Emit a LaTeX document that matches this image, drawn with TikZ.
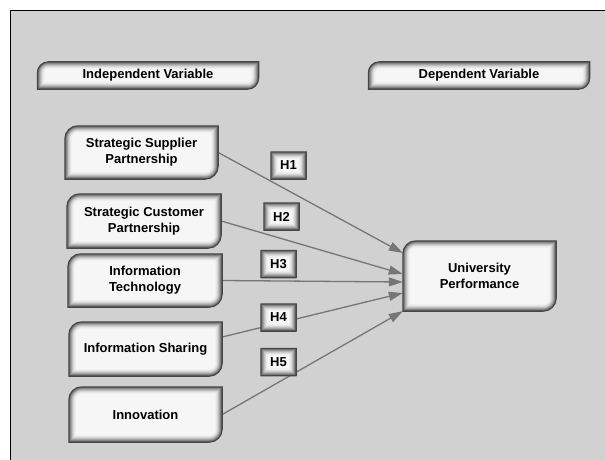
\documentclass[tikz,border=0pt]{standalone}
\usepackage{fontspec}
\setmainfont{Liberation Sans}
\usepackage{xcolor}
\usepackage{tikz}
\usetikzlibrary{arrows.meta}

\pgfdeclarelayer{bg}
\pgfsetlayers{bg,main}

\definecolor{panelgray}{RGB}{209,209,209}
\definecolor{edgegray}{RGB}{70,70,70}
\definecolor{linegray}{RGB}{118,118,118}

% box with inner glow, rounded top left and bottom right corners
\newcommand{\glowbox}[2]{%
  \foreach \k/\c in {0/38,1/50,2/63,3/74,4/83,5/90,6/94,7/96.5}{%
    \pgfmathsetmacro{\rr}{max(#2-\k,0.1)}%
    \pgfmathsetmacro{\ka}{\k+\rr}%
    \fill[white!\c!black]
      ([xshift=\k pt,yshift=\k pt]#1.south west)
      -- ([xshift=\k pt,yshift=-\ka pt]#1.north west)
      arc[start angle=180,end angle=90,radius=\rr pt]
      -- ([xshift=-\k pt,yshift=-\k pt]#1.north east)
      -- ([xshift=-\k pt,yshift=\ka pt]#1.south east)
      arc[start angle=0,end angle=-90,radius=\rr pt]
      -- cycle;
  }
  \pgfmathsetmacro{\rr}{max(#2,0.1)}%
  \draw[edgegray, line width=1.1pt]
    (#1.south west) -- ([yshift=-\rr pt]#1.north west)
    arc[start angle=180,end angle=90,radius=\rr pt]
    -- (#1.north east) -- ([yshift=\rr pt]#1.south east)
    arc[start angle=0,end angle=-90,radius=\rr pt] -- cycle;
}

\begin{document}
\begin{tikzpicture}[x=1pt, y=-1pt,
    every node/.style={font=\bfseries\fontsize{13}{16}\selectfont, inner sep=0pt, align=center},
    varbox/.style={minimum width=153pt, minimum height=54pt},
    headbox/.style={minimum width=221pt, minimum height=27pt},
    hypbox/.style={minimum width=35pt, minimum height=27pt},
    conn/.style={draw=linegray, line width=1.3pt, -{Triangle[length=14pt,width=9pt]}}]
    \useasboundingbox (0,0) rectangle (605,460);

    \node[headbox] (indep) at (148,75.5) {Independent Variable};
    \node[headbox] (dep) at (479,75.5) {Dependent Variable};

    \node[varbox, minimum height=53pt] (ssp) at (141.5,152.5) {Strategic Supplier\\Partnership};
    \node[varbox, minimum width=154pt] (scp) at (144,221) {Strategic Customer\\Partnership};
    \node[varbox, minimum width=154pt, minimum height=53pt] (it) at (145,280.5) {Information\\Technology};
    \node[varbox] (is) at (145.5,349) {Information Sharing};
    \node[varbox, minimum height=55pt] (inn) at (145.5,414.5) {Innovation};
    \node[varbox, minimum height=70pt] (up) at (479.5,276) {University\\Performance};

    \node[hypbox] (h1) at (288.5,165.5) {H1};
    \node[hypbox] (h2) at (281.5,216.5) {H2};
    \node[hypbox] (h3) at (278.5,264) {H3};
    \node[hypbox] (h4) at (278.5,317.5) {H4};
    \node[hypbox] (h5) at (278.5,362) {H5};

    \begin{pgfonlayer}{bg}
    \fill[panelgray] (10,11) rectangle (610,465);
    \draw[black, line width=1pt] (10,465) -- (10,11) -- (610,11);

    \draw[conn] (ssp.east) -- ([yshift=23pt]up.west);
    \draw[conn] (scp.east) -- ([yshift=2pt]up.west);
    \draw[conn] (it.east) -- ([yshift=-6pt]up.west);
    \draw[conn] ([yshift=12pt]is.east) -- ([yshift=-17pt]up.west);
    \draw[conn] (inn.east) -- (up.south west);

    \foreach \n in {indep,dep}{\glowbox{\n}{11}}
    \foreach \n in {ssp,scp,it,is,inn,up}{\glowbox{\n}{13}}
    \foreach \n in {h1,h2,h3,h4,h5}{\glowbox{\n}{0}}
    \end{pgfonlayer}
\end{tikzpicture}
\end{document}
